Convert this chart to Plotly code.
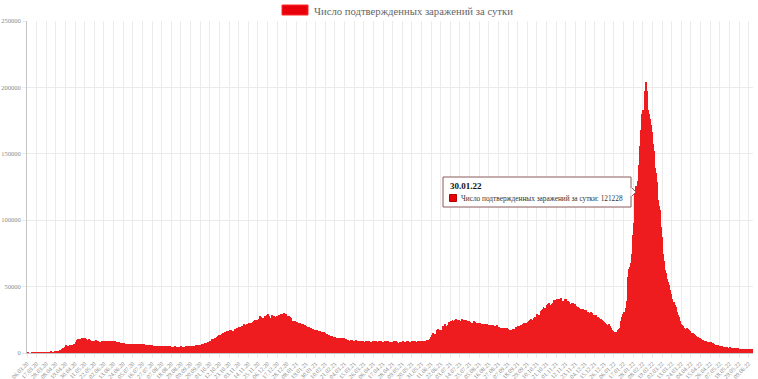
import pandas as pd
import plotly.graph_objects as go

# ---------------- data (daily confirmed cases) ----------------
start_date = "2020-03-06"
label_step_days = 11
series_name = "Число подтвержденных заражений за сутки"
highlight_label = "30.01.22"

mar20 = [1, 6, 2, 0, 3, 8, 6, 17, 14, 4, 30, 21, 33, 52, 54, 53, 61, 71, 57, 163, 182, 196, 228, 270, 302, 500]
apr20 = [440, 771, 601, 582, 658, 954, 1154, 1175, 1459, 1786, 1667, 2186, 2558, 2774, 3388, 3448, 4070, 4785, 6060, 4268,
         5642, 5236, 4774, 5849, 5966, 6361, 6198, 6411, 5841, 7099]
may20 = [7933, 9623, 10633, 10581, 10102, 10559, 11231, 10699, 10817, 11012, 11656, 10899, 10028, 9974, 10598, 9200, 9709,
         8926, 9263, 8764, 8849, 8894, 9434, 8599, 8946, 8915, 8338, 8371, 8572, 8952, 9268]
jun20 = [9035, 8863, 8536, 8831, 8705, 8855, 8984, 8985, 8595, 8404, 8779, 8987, 8706, 8835, 8246, 8248, 7843, 7790, 7972,
         7889, 7728, 7600, 7425, 7176, 7113, 6800, 6852, 6791, 6719, 6693]
jul20 = [6556, 6760, 6718, 6632, 6736, 6611, 6368, 6562, 6509, 6635, 6611, 6615, 6537, 6248, 6422, 6428, 6406, 6234, 6109,
         6139, 5842, 5862, 5811, 5871, 5848, 5765, 5635, 5395, 5475, 5509, 5482]
aug20 = [5462, 5427, 5159, 5204, 5267, 5241, 5212, 5189, 5118, 5102, 4945, 4890, 5057, 5065, 5061, 4969, 4839, 4718, 4828,
         4767, 4870, 4921, 4852, 4676, 4696, 4744, 4711, 4829, 4980, 4897, 4729]
sep20 = [4670, 4729, 4952, 5110, 5195, 5205, 5185, 5099, 5218, 5363, 5449, 5406, 5509, 5572, 5670, 5762, 5905, 5944, 6065,
         6148, 6196, 6431, 6215, 6595, 7212, 7523, 7867, 8135, 8232, 8481]
oct20 = [8945, 9412, 10499, 10888, 10888, 11615, 11115, 11493, 12126, 12846, 13634, 13592, 13868, 14231, 14922, 15150, 15099,
         15982, 15700, 16319, 15971, 16521, 17340, 17347, 17171, 16550, 16202, 16541, 17717, 18283, 18140]
nov20 = [18665, 18648, 19768, 19404, 19851, 20582, 20498, 20396, 21798, 20977, 19851, 21608, 21983, 22778, 22572, 21983,
         22410, 22778, 23610, 24318, 24581, 24822, 25173, 24326, 23675, 25487, 27543, 27100, 26338, 26683]
dec20 = [26402, 25345, 28145, 28209, 28782, 29039, 28137, 26097, 26190, 27927, 28585, 28137, 28080, 27328, 26689, 27656,
         27227, 28214, 28552, 28209, 29350, 28776, 29258, 29935, 29018, 28284, 29018, 27787, 26513, 27747, 27039]
jan21 = [26301, 24246, 23351, 23652, 24217, 24246, 23541, 23309, 22851, 22934, 22520, 22315, 21910, 21767, 21852, 21127,
         20985, 20594, 20068, 19785, 19648, 19290, 19032, 18670, 18241, 17990, 17741, 17648, 17567, 17306, 17101]
feb21 = [16714, 16643, 16474, 16688, 16048, 15977, 15789, 15489, 14861, 14494, 14207, 14185, 13433, 13233, 12828, 12742,
         12604, 12396, 12320, 12153, 11742, 11534, 11198, 10880, 11022, 11130, 10935, 10595]
mar21 = [10565, 11385, 11024, 10595, 10599, 10000, 10081, 9437, 9079, 9288, 9908, 9445, 9393, 9222, 9299, 9212, 9462, 9195,
         9088, 8369, 8792, 9128, 9073, 8910, 8885, 8277, 8368, 8711, 8787, 8817, 8885]
apr21 = [8679, 8646, 8294, 8328, 8679, 8907, 8665, 8702, 8773, 8134, 8173, 8804, 9153, 9112, 8632, 8053, 8162, 8361, 9037,
         8804, 8957, 8683, 8326, 7771, 8457, 8316, 8466, 8419, 8697, 8180]
may21 = [9284, 9270, 8329, 7889, 7770, 8519, 8328, 8419, 8697, 8180, 7252, 7974, 8217, 8726, 8826, 8442, 8554, 8247, 8081,
         8926, 8947, 8951, 8951, 8632, 8299, 8474, 8903, 9145, 9313, 9118, 8951]
jun21 = [9252, 9319, 9281, 9328, 9305, 9555, 9539, 9820, 10407, 11699, 12505, 13510, 14723, 13721, 14185, 13397, 17262,
         17906, 17611, 17378, 17594, 16715, 17594, 20182, 20393, 21665, 21650, 20538, 20616, 21042]
jul21 = [23543, 23218, 24439, 24353, 24702, 23378, 23962, 24818, 25766, 25082, 25033, 24702, 25140, 23827, 24471, 25293,
         24072, 25116, 23962, 24633, 23811, 24471, 24072, 23947, 23270, 22804, 22420, 22589, 23564, 23811, 23270]
aug21 = [22069, 22589, 22804, 22420, 22589, 22214, 22144, 21932, 22160, 21765, 21571, 21932, 21624, 21000, 20992, 20765,
         20958, 20914, 21058, 20992, 20564, 20509, 20630, 20402, 20765, 19509, 19286, 18856, 18325, 18780, 18985]
sep21 = [17856, 18780, 18985, 18325, 18645, 17837, 17856, 17341, 17178, 17380, 17645, 17841, 18178, 17837, 18380, 19594,
         19905, 20174, 20329, 19706, 20774, 21379, 21559, 21828, 22236, 22498, 22830, 22961, 23340, 23888]
oct21 = [25133, 24522, 25781, 25110, 25133, 26261, 26740, 27464, 28647, 29409, 28190, 28717, 28717, 31299, 32196, 33208,
         34325, 33740, 33740, 34073, 36339, 37141, 37678, 35660, 34325, 36446, 36582, 38000, 39849, 40096, 40251]
nov21 = [40993, 40402, 40217, 40735, 40217, 41335, 39160, 38823, 39160, 38058, 40759, 40759, 39256, 38823, 38420, 36626,
         37120, 37374, 37156, 37930, 37120, 36970, 35681, 34690, 34325, 33860, 33558, 33389, 32930, 32136]
dec21 = [32930, 32602, 32136, 32648, 32435, 31096, 30752, 30209, 29929, 30752, 29929, 29558, 28486, 28363, 28486, 28363,
         27434, 26821, 26252, 26052, 25667, 25230, 24703, 23820, 23210, 22399, 21922, 21424, 21155, 21073, 21922]
jan22 = [20073, 18594, 17525, 16580, 15833, 15316, 16023, 15912, 15830, 17525, 17845, 19000, 21071, 23820, 26821, 29564,
         30726, 31252, 33899, 38850, 49513, 57212, 63205, 65109, 67809, 74692, 88816, 97615, 113122, 121228, 125836]
feb22 = [124070, 129611, 141883, 155768, 168201, 166631, 180071, 183103, 183104, 197076, 203949, 197301, 182694, 180456,
         179675, 176291, 171905, 166631, 157224, 152352, 139152, 135172, 135850, 128805, 115226, 110937, 108054, 95213]
mar22 = [87000, 80900, 74200, 69100, 62300, 60000, 56000, 53500, 50900, 49900, 47100, 44200, 40400, 37300, 38600, 36100,
         34400, 33100, 30800, 28700, 27000, 24000, 21500, 21000, 20500, 19800, 18700, 17400, 18300, 18600, 18100]
apr22 = [17600, 16700, 15800, 14100, 15200, 14900, 14200, 13400, 12800, 12100, 11200, 11900, 11500, 11000, 10500, 10000,
         9600, 8700, 9300, 9100, 8900, 8600, 8400, 8000, 7700, 8200, 8000, 7600, 7200, 6800]
may22 = [6400, 6000, 5800, 5700, 5500, 5300, 5200, 5100, 4900, 4500, 4700, 4600, 4500, 4600, 4300, 4000, 4100, 4200, 4000,
         3900, 3800, 3700, 3600, 3500, 3600, 3500, 3400, 3400, 3300, 3200, 3300]
jun22 = [3200, 3100, 3200, 3100, 3000, 2900, 3000, 3000, 3100, 2900, 2800, 2800, 2900]

values = (mar20 + apr20 + may20 + jun20 + jul20 + aug20 + sep20 + oct20 + nov20 + dec20 +
          jan21 + feb21 + mar21 + apr21 + may21 + jun21 + jul21 + aug21 + sep21 + oct21 + nov21 + dec21 +
          jan22 + feb22 + mar22 + apr22 + may22 + jun22)

dates = pd.date_range(start_date, periods=len(values), freq="D")
bar_x = dates + pd.Timedelta(hours=12)  # bar centred on its day; gridline at bar's left edge

# ---------------- style ----------------
W, H = 758, 379
ML, MR, MT, MB = 27, 5, 21, 26
PW, PH = W - ML - MR, H - MT - MB
FONT = "Liberation Serif"
BAR = "#ee1c1f"
GRID = "#ebebeb"
AXIS = "#c4c4c4"
TICKTXT = "#8a8a8a"


def px(x):
    return (x - ML) / PW


def py(y):
    return (H - MB - y) / PH


fig = go.Figure(
    go.Bar(x=bar_x, y=values, marker=dict(color=BAR, line=dict(width=0)),
           showlegend=False, hoverinfo="skip", name=series_name)
)

fig.update_layout(
    width=W, height=H,
    margin=dict(l=ML, r=MR, t=MT, b=MB),
    paper_bgcolor="white", plot_bgcolor="white",
    bargap=0, font=dict(family=FONT),
    showlegend=False,
)

fig.update_xaxes(
    type="date",
    range=[dates[0], dates[-1] + pd.Timedelta(days=1)],
    tick0=dates[0], dtick=label_step_days * 86400000,
    tickformat="%d.%m.%y", tickangle=-45,
    tickfont=dict(family=FONT, size=6, color=TICKTXT),
    showgrid=True, gridcolor=GRID, gridwidth=1,
    ticks="outside", ticklen=4, tickcolor=GRID,
    showline=True, linecolor=AXIS, linewidth=1,
    automargin=False, zeroline=False,
)
fig.update_yaxes(
    range=[0, 250000], dtick=50000, tick0=0, tickformat="d",
    tickfont=dict(family=FONT, size=6.5, color=TICKTXT),
    showgrid=True, gridcolor=GRID, gridwidth=1,
    ticks="outside", ticklen=4, tickcolor=GRID,
    showline=True, linecolor=AXIS, linewidth=1,
    automargin=False, zeroline=False,
)

shapes = []
annotations = []

# legend (Chart.js style wide swatch + label)
shapes.append(dict(type="rect", xref="paper", yref="paper",
                   x0=px(282), x1=px(308), y0=py(15), y1=py(5),
                   fillcolor="#e8000a", line=dict(color="#ff2a2a", width=1)))
annotations.append(dict(xref="paper", yref="paper", x=px(312), y=py(10.5),
                        xanchor="left", yanchor="middle", showarrow=False,
                        text=series_name, font=dict(family=FONT, size=10.7, color="#666666")))

# tooltip for the highlighted day
hi_idx = [d.strftime("%d.%m.%y") for d in dates].index(highlight_label)
tip_border = "#8c5a5a"
shapes.append(dict(type="rect", xref="paper", yref="paper",
                   x0=px(443), x1=px(631), y0=py(207), y1=py(177),
                   fillcolor="white", line=dict(color=tip_border, width=1)))
shapes.append(dict(type="path", xref="paper", yref="paper",
                   path=f"M {px(631)},{py(187)} L {px(636)},{py(192)} L {px(631)},{py(197)} Z",
                   fillcolor="white", line=dict(color=tip_border, width=1)))
shapes.append(dict(type="line", xref="paper", yref="paper",
                   x0=px(631), x1=px(631), y0=py(187.5), y1=py(196.5),
                   line=dict(color="white", width=1.5)))
shapes.append(dict(type="rect", xref="paper", yref="paper",
                   x0=px(449.5), x1=px(456.5), y0=py(201.5), y1=py(194.5),
                   fillcolor="#e8000a", line=dict(color="#b40000", width=1)))
annotations.append(dict(xref="paper", yref="paper", x=px(448), y=py(186),
                        xanchor="left", yanchor="middle", showarrow=False,
                        text=f"<b>{highlight_label}</b>",
                        font=dict(family=FONT, size=9, color="#111111")))
annotations.append(dict(xref="paper", yref="paper", x=px(459), y=py(198),
                        xanchor="left", yanchor="middle", showarrow=False,
                        text=f"{series_name}: {values[hi_idx]}",
                        font=dict(family=FONT, size=7.3, color="#333333")))

fig.update_layout(shapes=shapes, annotations=annotations)

fig.write_html("out.html", config={"displayModeBar": False},
               post_script="document.body.style.margin='0';document.body.style.overflow='hidden';")
